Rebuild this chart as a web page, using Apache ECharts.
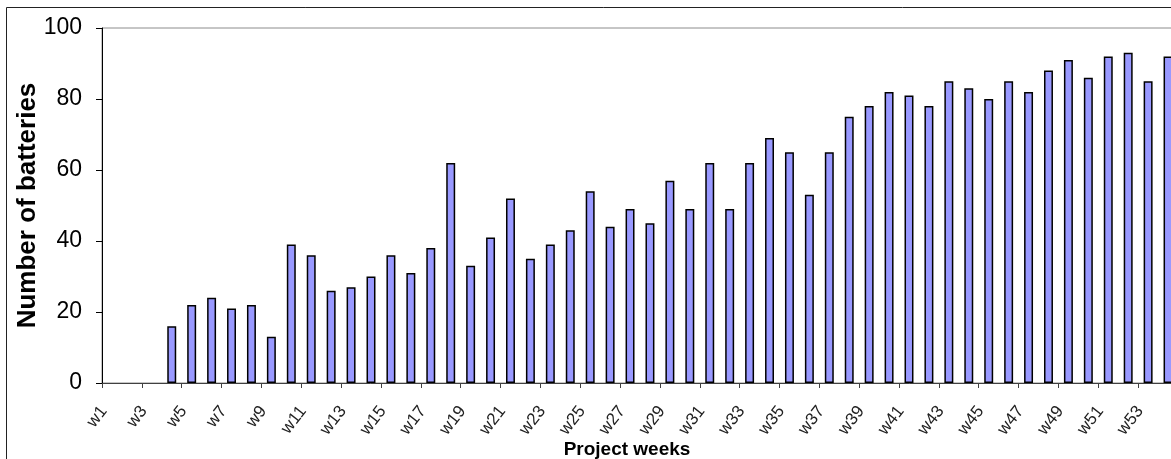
<!DOCTYPE html>
<html>
<head>
<meta charset="utf-8">
<script src="https://cdn.jsdelivr.net/npm/echarts@6/dist/echarts.min.js"></script>
<style>
  html, body { margin: 0; padding: 0; background: #fff; overflow: hidden; }
  #chart { width: 1200px; height: 459px; }
</style>
</head>
<body>
<div id="chart"></div>
<script>
const weeks = ['w1','w2','w3','w4','w5','w6','w7','w8','w9','w10','w11','w12','w13','w14','w15','w16','w17','w18','w19','w20','w21','w22','w23','w24','w25','w26','w27','w28','w29','w30','w31','w32','w33','w34','w35','w36','w37','w38','w39','w40','w41','w42','w43','w44','w45','w46','w47','w48','w49','w50','w51','w52','w53','w54'];
const batteries = [null,null,null,16,22,24,21,22,13,39,36,26,27,30,36,31,38,62,33,41,52,35,39,43,54,44,49,45,57,49,62,49,62,69,65,53,65,75,78,82,81,78,85,83,80,85,82,88,91,86,92,93,85,92];
const yTicks = [0, 20, 40, 60, 80, 100];
const yTitle = 'Number of batteries';
const xTitle = 'Project weeks';

const chart = echarts.init(document.getElementById('chart'), null, { renderer: 'canvas' });
chart.setOption({
  animation: false,
  backgroundColor: '#ffffff',
  textStyle: { fontFamily: '"Liberation Sans", Arial, sans-serif' },
  graphic: [{
    type: 'rect',
    shape: { x: 6.5, y: 7.5, width: 1300, height: 600 },
    style: { fill: 'none', stroke: '#222', lineWidth: 1 },
    z: 100, silent: true
  }],
  grid: {
    left: 102, top: 28, right: 22, bottom: 76,
    containLabel: false,
    outerBoundsMode: 'none',
    show: true, borderColor: '#8c8c8c', borderWidth: 1, backgroundColor: 'transparent'
  },
  xAxis: {
    type: 'category',
    data: weeks,
    name: xTitle,
    nameLocation: 'middle',
    nameGap: 57,
    nameMoveOverlap: false,
    nameTextStyle: { fontSize: 19, fontWeight: 'bold', color: '#000', padding: [0, 26, 0, 0] },
    axisLine: { lineStyle: { color: '#404040', width: 1 } },
    axisTick: { show: true, length: 5, lineStyle: { color: '#404040' } },
    axisLabel: { interval: 1, rotate: 52, fontSize: 17, color: '#222', margin: 15, padding: [0, 13, 0, 0] },
    splitLine: { show: false }
  },
  yAxis: {
    type: 'value',
    min: yTicks[0], max: yTicks[yTicks.length - 1], interval: yTicks[1] - yTicks[0],
    name: yTitle,
    nameLocation: 'middle',
    nameGap: 61,
    nameMoveOverlap: false,
    nameTextStyle: { fontSize: 26, fontWeight: 'bold', color: '#000' },
    axisLine: { show: true, lineStyle: { color: '#000', width: 1 } },
    axisTick: { show: true, length: 6, lineStyle: { color: '#000' } },
    axisLabel: { fontSize: 23, color: '#000', margin: 20 },
    splitLine: { show: false }
  },
  series: [{
    type: 'bar',
    data: batteries,
    barCategoryGap: '55%',
    itemStyle: { color: '#9999FF', borderColor: '#000', borderWidth: 1.5 }
  }]
});
</script>
</body>
</html>
